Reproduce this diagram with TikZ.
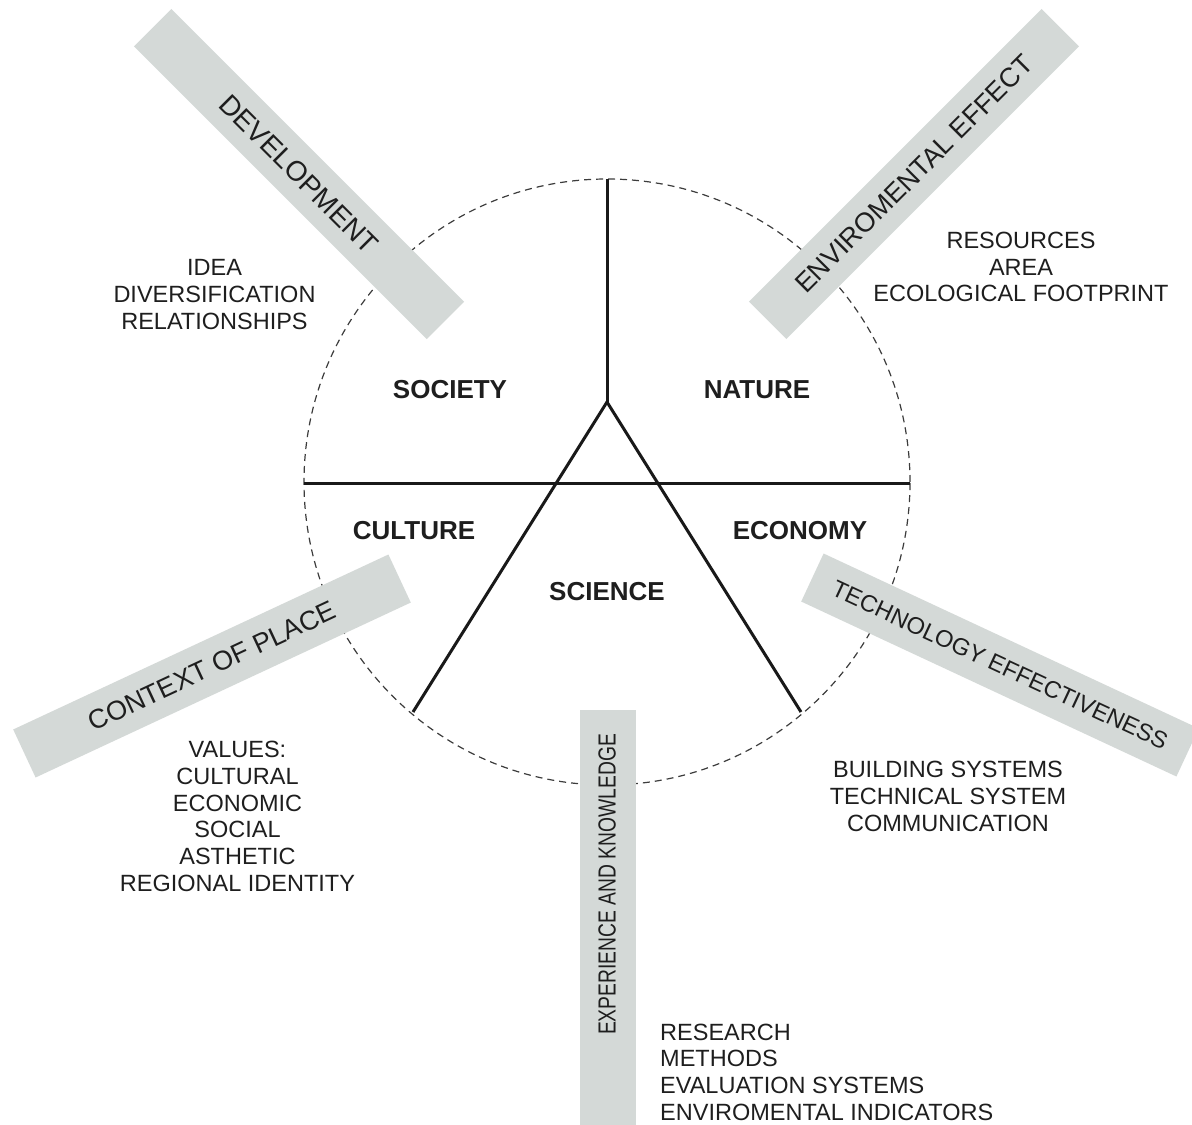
\documentclass[tikz,border=0pt]{standalone}
\usepackage{fontspec}
\setmainfont{Liberation Sans}
\definecolor{barfill}{RGB}{212,217,215}
\definecolor{txt}{RGB}{30,30,30}
\definecolor{linecol}{RGB}{25,25,25}
\definecolor{ringcol}{RGB}{60,60,60}
\begin{document}
\begin{tikzpicture}[x=1pt,y=-1pt,
  bar/.style={fill=barfill, draw=none, minimum width=414pt, minimum height=53pt, inner sep=0pt, text=txt},
  cat/.style={font=\bfseries\fontsize{26}{30}\selectfont, text=txt, inner sep=0pt},
  info/.style={font=\fontsize{23.5}{26.7}\selectfont, text=txt, align=center, inner sep=0pt},
  divline/.style={line width=3pt, draw=linecol, line join=miter},
  ringstyle/.style={draw=ringcol, line width=1.2pt, dash pattern=on 7pt off 5pt, circle, minimum size=606pt, inner sep=0pt}
]
\useasboundingbox (0,0) rectangle (1192,1125);
% dashed ring
\node[ringstyle] (ring) at (607,482) {};
% dividing lines
\coordinate (top) at (607,179);
\coordinate (j) at (607,402);
\coordinate (le) at (413,712);
\coordinate (re) at (801,712);
\coordinate (hl) at (304,483);
\coordinate (hr) at (910,483);
\draw[divline] (top) -- (j);
\draw[divline] (le) -- (j) -- (re);
\draw[divline] (hl) -- (hr);
% bars
\node[bar, rotate=-45, font=\fontsize{28}{30}\selectfont] (dev) at (299,174) {DEVELOPMENT};
\node[bar, rotate=45, font=\fontsize{27}{30}\selectfont] (env) at (914,174) {ENVIROMENTAL EFFECT};
\node[bar, rotate=25, font=\fontsize{27}{30}\selectfont] (ctx) at (212,666) {CONTEXT OF PLACE};
\node[bar, rotate=-25, font=\fontsize{23.7}{26}\selectfont] (tech) at (1000,665) {TECHNOLOGY EFFECTIVENESS};
\node[bar, rotate=90, minimum width=415pt, minimum height=56pt] (exp) at (607.5,917.5) {};
\node[rotate=90, text=txt, inner sep=0pt] (expt) at (607,884.5) {\scalebox{0.78}[1]{\fontsize{24.7}{28}\selectfont EXPERIENCE AND KNOWLEDGE}};
% category labels
\node[cat] (society) at (450,390) {SOCIETY};
\node[cat] (nature) at (757,390) {NATURE};
\node[cat] (culture) at (414,531) {CULTURE};
\node[cat] (economy) at (800,531) {ECONOMY};
\node[cat] (science) at (607,592) {SCIENCE};
% info texts
\node[info] (idea) at (214.5,294.5) {IDEA\\DIVERSIFICATION\\RELATIONSHIPS};
\node[info] (res) at (1021,267) {RESOURCES\\AREA\\ECOLOGICAL FOOTPRINT};
\node[info] (values) at (237.5,816.5) {VALUES:\\CULTURAL\\ECONOMIC\\SOCIAL\\ASTHETIC\\REGIONAL IDENTITY};
\node[info] (build) at (948,796.5) {BUILDING SYSTEMS\\TECHNICAL SYSTEM\\COMMUNICATION};
\node[info, align=left, anchor=west] (research) at (660,1072) {RESEARCH\\METHODS\\EVALUATION SYSTEMS\\ENVIROMENTAL INDICATORS};
\end{tikzpicture}
\end{document}
